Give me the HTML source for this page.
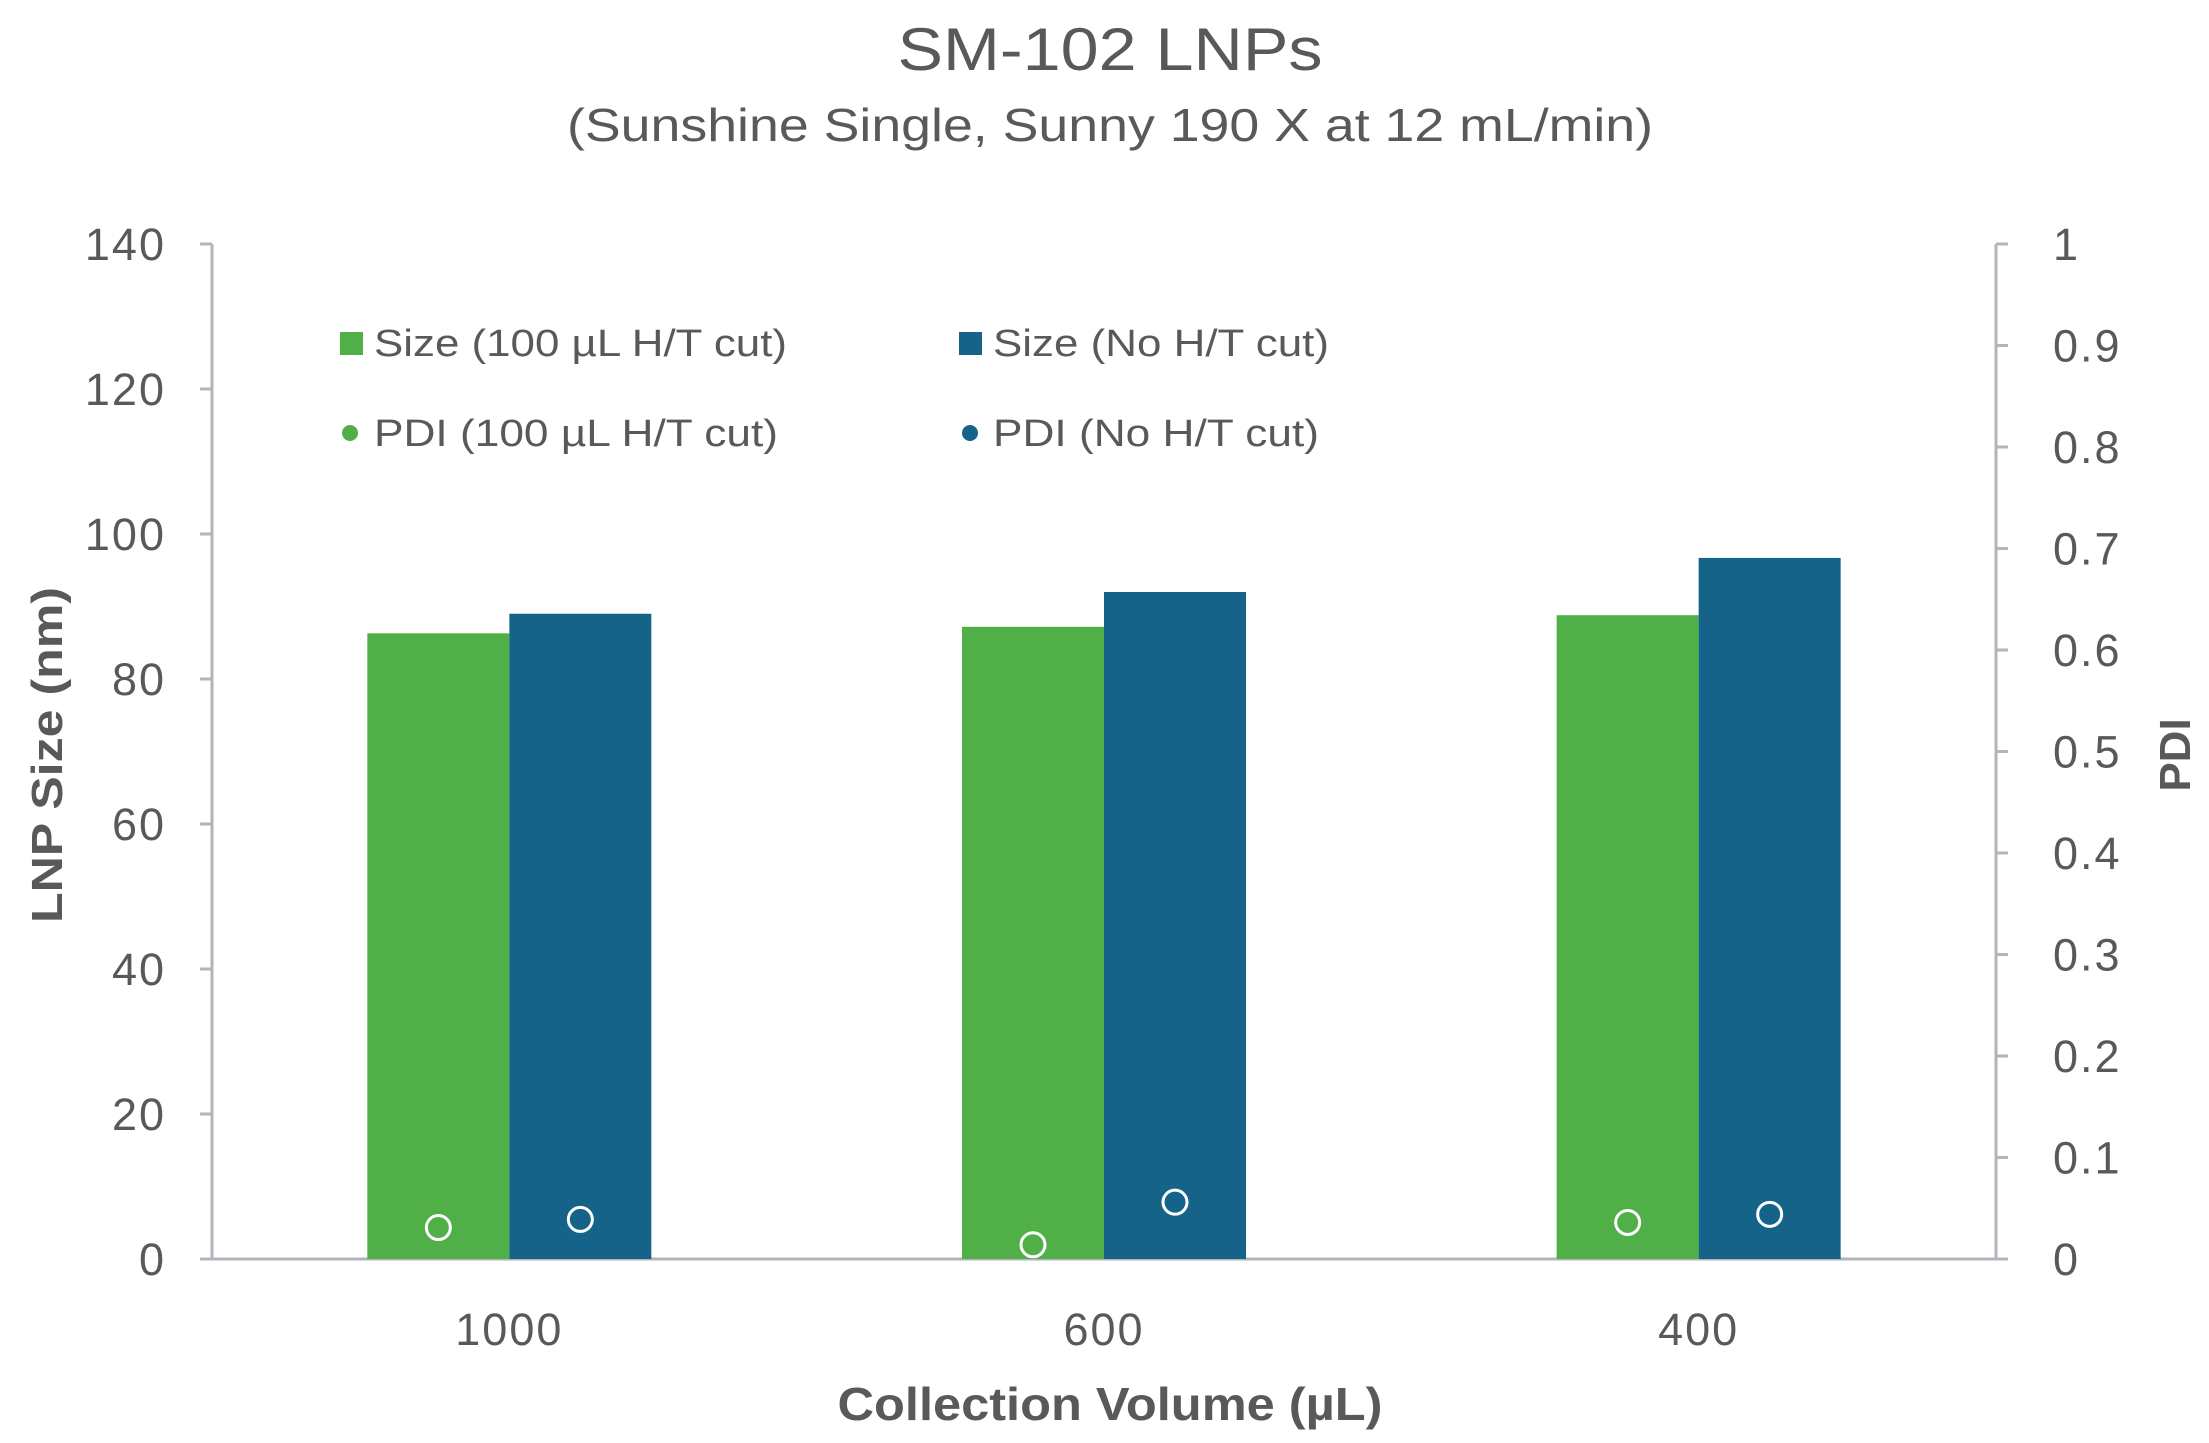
<!DOCTYPE html>
<html><head><meta charset="utf-8"><style>
html,body{margin:0;padding:0;background:#fff;}
svg{display:block;font-family:"Liberation Sans",sans-serif;}
</style></head><body>
<svg id="chart" width="2209" height="1443" viewBox="0 0 2209 1443">
<text x="1110" y="70" text-anchor="middle" font-size="60" fill="#595959" textLength="425" lengthAdjust="spacingAndGlyphs">SM-102 LNPs</text>
<text x="1110" y="141" text-anchor="middle" font-size="46" fill="#595959" textLength="1086" lengthAdjust="spacingAndGlyphs">(Sunshine Single, Sunny 190 X at 12 mL/min)</text>
<g id="axes"></g>
<g id="bars"></g>
<g id="points"></g>
<g>
<rect x="340" y="332" width="23" height="23" fill="#50b047"/>
<text x="374" y="356" font-size="38" fill="#595959" textLength="413" lengthAdjust="spacingAndGlyphs">Size (100 µL H/T cut)</text>
<rect x="959" y="332" width="23" height="23" fill="#156389"/>
<text x="993" y="356" font-size="38" fill="#595959" textLength="336" lengthAdjust="spacingAndGlyphs">Size (No H/T cut)</text>
<circle cx="350" cy="433" r="8" fill="#50b047"/>
<text x="374" y="446" font-size="38" fill="#595959" textLength="404" lengthAdjust="spacingAndGlyphs">PDI (100 µL H/T cut)</text>
<circle cx="970" cy="433" r="8" fill="#156389"/>
<text x="993" y="446" font-size="38" fill="#595959" textLength="326" lengthAdjust="spacingAndGlyphs">PDI (No H/T cut)</text>
</g>
<text x="1110" y="1420" text-anchor="middle" font-size="46" font-weight="bold" fill="#595959" textLength="545" lengthAdjust="spacingAndGlyphs">Collection Volume (µL)</text>
<text transform="translate(62,755) rotate(-90)" text-anchor="middle" font-size="44" font-weight="bold" fill="#595959" textLength="336" lengthAdjust="spacingAndGlyphs">LNP Size (nm)</text>
<text transform="translate(2190,755) rotate(-90)" text-anchor="middle" font-size="44" font-weight="bold" fill="#595959">PDI</text>
</svg>
<script>
const categories = ["1000","600","400"];
const sizeCut = [86.3, 87.2, 88.8];
const sizeNoCut = [89, 92, 96.7];
const pdiCut = [0.031, 0.014, 0.036];
const pdiNoCut = [0.039, 0.056, 0.044];
const leftTicks = [0,20,40,60,80,100,120,140];
const rightTicks = [0,0.1,0.2,0.3,0.4,0.5,0.6,0.7,0.8,0.9,1];

const NS="http://www.w3.org/2000/svg";
const X0=212, X1=1996, Y0=1259, YT=244;
const catW=(X1-X0)/categories.length, barW=142;
function yL(v){return Y0-(v/140)*(Y0-YT);}
function yR(v){return Y0-v*(Y0-YT);}
function xC(i){return X0+catW*(i+0.5);}
function mk(tag,attrs,parent){const e=document.createElementNS(NS,tag);for(const k in attrs)e.setAttribute(k,attrs[k]);parent.appendChild(e);return e;}
const axes=document.getElementById('axes'),bars=document.getElementById('bars'),pts=document.getElementById('points');
const ac="#b3b3bb";
let l=mk('line',{x1:X0,y1:YT,x2:X0,y2:Y0,stroke:ac,'stroke-width':3},axes);


l=mk('line',{x1:X1,y1:YT,x2:X1,y2:Y0,stroke:ac,'stroke-width':3},axes);


l=mk('line',{x1:X0-12,y1:Y0,x2:X1+12,y2:Y0,stroke:ac,'stroke-width':3},axes);


leftTicks.forEach(v=>{
  const y=yL(v);
  mk('line',{x1:X0-12,y1:y,x2:X0,y2:y,stroke:ac,'stroke-width':3},axes);
  const t=mk('text',{x:166,y:y+16,'text-anchor':'end','font-size':45,'letter-spacing':2,fill:'#595959'},axes);
  t.textContent=v;
  
  
});
rightTicks.forEach(v=>{
  const y=yR(v);
  mk('line',{x1:X1,y1:y,x2:X1+12,y2:y,stroke:ac,'stroke-width':3},axes);
  const t=mk('text',{x:2053,y:y+16,'font-size':45,'letter-spacing':2,fill:'#595959'},axes);
  t.textContent=String(v);
  
  
});
categories.forEach((c,i)=>{
  const t=mk('text',{x:xC(i),y:1345,'text-anchor':'middle','font-size':45,'letter-spacing':2,fill:'#595959'},axes);
  t.textContent=c;
  
  
  let b=mk('rect',{x:xC(i)-barW,y:yL(sizeCut[i]),width:barW,height:Y0-yL(sizeCut[i]),fill:'#50b047'},bars);
  
  
  b=mk('rect',{x:xC(i),y:yL(sizeNoCut[i]),width:barW,height:Y0-yL(sizeNoCut[i]),fill:'#156389'},bars);
  
  
  let p=mk('circle',{cx:xC(i)-barW/2,cy:yR(pdiCut[i]),r:12,fill:'none',stroke:'#fff','stroke-width':3},pts);
  
  
  p=mk('circle',{cx:xC(i)+barW/2,cy:yR(pdiNoCut[i]),r:12,fill:'none',stroke:'#fff','stroke-width':3},pts);
  
  
});
</script>
</body></html>
